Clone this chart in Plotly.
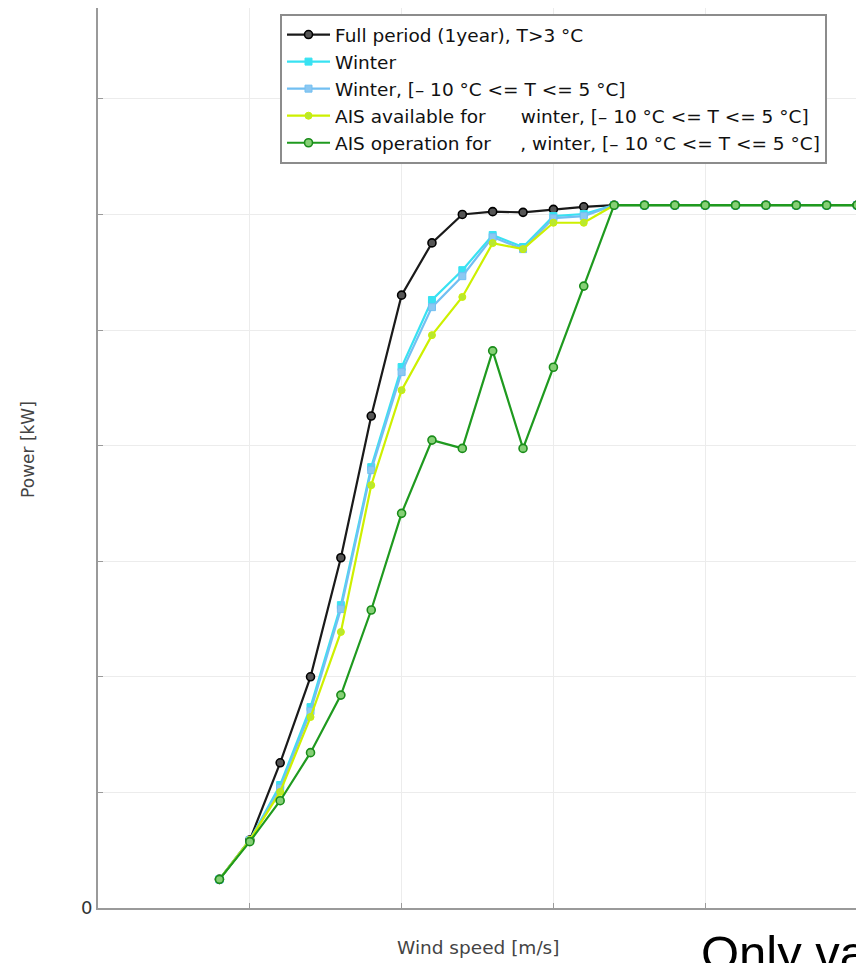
import plotly.graph_objects as go

wind_speed = [4, 5, 6, 7, 8, 9, 10, 11, 12, 13, 14, 15, 16, 17, 18, 19, 20, 21, 22, 23, 24, 25]

full_period = [124, 294, 628, 1000, 1515, 2128, 2651, 2877, 3000, 3012, 3009, 3022, 3033, 3040,
               3040, 3040, 3040, 3040, 3040, 3040, 3040, 3040]
winter = [124, 294, 532, 869, 1310, 1907, 2340, 2630, 2759, 2911, 2859, 2993, 3002, 3040,
          3040, 3040, 3040, 3040, 3040, 3040, 3040, 3040]
winter_range = [124, 294, 519, 852, 1293, 1894, 2318, 2599, 2733, 2902, 2850, 2984, 2993, 3040,
                3040, 3040, 3040, 3040, 3040, 3040, 3040, 3040]
ais_available = [124, 294, 502, 826, 1194, 1829, 2240, 2478, 2643, 2876, 2850, 2964, 2964, 3040,
                 3040, 3040, 3040, 3040, 3040, 3040, 3040, 3040]
ais_operation = [124, 287, 464, 672, 921, 1289, 1707, 2024, 1988, 2410, 1988, 2339, 2690, 3040,
                 3040, 3040, 3040, 3040, 3040, 3040, 3040, 3040]

NB = "\u00a0"
series_names = [
    "Full period (1year), T>3 °C",
    "Winter",
    "Winter, [– 10 °C <= T <= 5 °C]",
    "AIS available for" + NB * 6 + "winter, [– 10 °C <= T <= 5 °C]",
    "AIS operation for" + NB * 5 + ", winter, [– 10 °C <= T <= 5 °C]",
]

y_ticks = [0, 500, 1000, 1500, 2000, 2500, 3000, 3500]
y_tick_labels = ["0", "", "", "", "", "", "", ""]
x_ticks = [0, 5, 10, 15, 20, 25]

x_title = "Wind speed [m/s]"
y_title = "Power [kW]"
note_text = "Only va"

FONT = "DejaVu Sans, sans-serif"
FONT2 = "Liberation Sans, Arial, sans-serif"

fig = go.Figure()

styles = [
    (full_period, "#1a1a1a", dict(symbol="circle", size=8, color="#555555", line=dict(color="#000000", width=1.6))),
    (winter, "#38e2f2", dict(symbol="square", size=7, color="#38e2f2", line=dict(color="#38e2f2", width=1))),
    (winter_range, "#72bff2", dict(symbol="square", size=7, color="#8cc8f2", line=dict(color="#72bff2", width=1))),
    (ais_available, "#cdf000", dict(symbol="circle", size=7, color="#b8e830", line=dict(color="#cdf000", width=1))),
    (ais_operation, "#1f9a1f", dict(symbol="circle", size=8, color="#86d076", line=dict(color="#1a8c1a", width=1.6))),
]

for name, (vals, col, mk) in zip(series_names, styles):
    fig.add_trace(go.Scatter(
        x=wind_speed, y=vals, name=name, mode="lines+markers",
        line=dict(color=col, width=2.2), marker=mk, cliponaxis=False,
    ))

fig.update_layout(
    width=856, height=955,
    margin=dict(l=90, r=7, t=0, b=55, autoexpand=False),
    paper_bgcolor="white", plot_bgcolor="white",
    font=dict(family=FONT, color="#000000"),
    showlegend=True,
    legend=dict(
        x=0.2398, y=0.9933, xanchor="left", yanchor="top",
        bgcolor="white", bordercolor="#8c8c8c", borderwidth=2,
        font=dict(family=FONT, size=18.5, color="#111111"),
        itemwidth=43, tracegroupgap=0,
    ),
    xaxis=dict(
        range=[0, 25], tickvals=x_ticks, showticklabels=False, automargin=False,
        showgrid=True, gridcolor="#ececec", gridwidth=1,
        showline=True, linecolor="#9a9a9a", linewidth=2,
        ticks="inside", ticklen=5, tickcolor="#9a9a9a", zeroline=False,
    ),
    yaxis=dict(
        range=[0, 3893], tickvals=y_ticks, ticktext=y_tick_labels, automargin=False,
        showgrid=True, gridcolor="#ececec", gridwidth=1,
        showline=True, linecolor="#9a9a9a", linewidth=2,
        ticks="inside", ticklen=5, tickcolor="#9a9a9a", zeroline=False,
        tickfont=dict(family=FONT, size=18, color="#333333"),
    ),
    annotations=[
        dict(text=x_title, xref="paper", yref="paper", x=0.5007, y=-0.0444,
             xanchor="center", yanchor="middle", showarrow=False,
             font=dict(family=FONT, size=18.5, color="#444444")),
        dict(text=y_title, xref="paper", yref="paper", x=-0.0922, y=0.509,
             xanchor="center", yanchor="middle", showarrow=False, textangle=-90,
             font=dict(family=FONT, size=17, color="#444444")),
        dict(text=note_text, xref="paper", yref="paper", x=0.792, y=-0.0175,
             xanchor="left", yanchor="top", showarrow=False,
             font=dict(family=FONT2, size=49, color="#000000")),
    ],
)

fig.write_html("out.html")
